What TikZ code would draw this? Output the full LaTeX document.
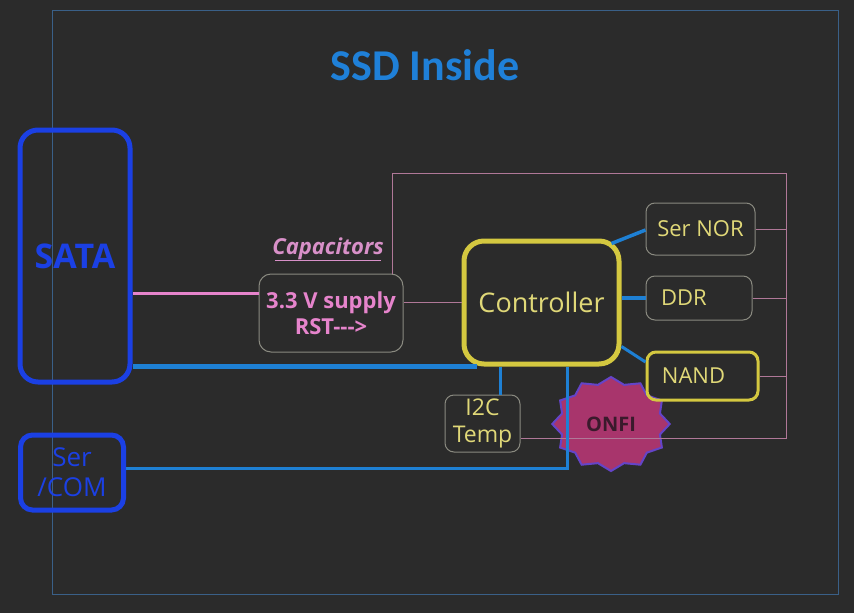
\documentclass[tikz,border=0pt]{standalone}
\usepackage{fontspec}
\setmainfont{Open Sans}
\newfontfamily\titlefont{Carlito}
\usetikzlibrary{shapes.geometric,calc}
\definecolor{bgc}{HTML}{2B2B2B}
\definecolor{framec}{HTML}{3A6088}
\definecolor{titlec}{HTML}{1F80D8}
\definecolor{satac}{HTML}{1B40E4}
\definecolor{pinkl}{HTML}{B07898}
\definecolor{pinkt}{HTML}{E684CC}
\definecolor{capc}{HTML}{D890C8}
\definecolor{grayb}{HTML}{8A8A80}
\definecolor{yell}{HTML}{D4C840}
\definecolor{yelt}{HTML}{E0D878}
\definecolor{bluel}{HTML}{1E80D4}
\definecolor{onfif}{HTML}{A8356C}
\definecolor{onfib}{HTML}{6444C8}
\definecolor{onfit}{HTML}{3A1A2C}
\tikzset{
  x=1pt, y=1pt,
  satabox/.style={draw=satac, line width=5pt, rounded corners=18pt, inner sep=0pt,
     text=satac, font=\bfseries\fontsize{34}{36}\selectfont},
  graybox/.style={draw=grayb, line width=1pt, rounded corners=9pt, inner sep=0pt,
     text=yelt, font=\fontsize{22}{24}\selectfont},
  yelbox/.style={draw=yell, line width=3pt, rounded corners=9pt, inner sep=0pt,
     text=yelt, font=\fontsize{22}{24}\selectfont},
  pinkthin/.style={draw=pinkl, line width=1pt},
  bluecon/.style={draw=bluel, line width=3.5pt},
}
\begin{document}
\begin{tikzpicture}
\fill[bgc] (0,0) rectangle (854,-613);
\useasboundingbox (0,0) rectangle (854,-613);
\draw[framec, line width=1pt] (52,-10) rectangle (838,-594);

\node[text=titlec, font=\titlefont\bfseries\fontsize{44}{46}\selectfont] (title) at (425,-65) {SSD Inside};

% ONFI burst drawn first
\node[star, star points=12, star point ratio=1.16, minimum size=94pt, xscale=1.25,
      fill=onfif, draw=onfib, line width=2pt, inner sep=0pt] (onfi) at (611,-424) {};
\node[text=onfit, font=\bfseries\fontsize{20}{22}\selectfont] (onfitext) at (onfi.center) {ONFI};

\node[satabox, minimum width=110pt, minimum height=252pt] (sata) at (75,-256) {SATA};
\node[satabox, rounded corners=12pt, minimum width=103pt, minimum height=75pt,
      font=\fontsize{26}{30}\selectfont, align=center] (sercom) at (72,-472.5) {Ser\\/COM};

\node[draw=grayb, line width=1pt, rounded corners=12pt, minimum width=144pt, minimum height=78pt,
      text=pinkt, font=\bfseries\fontsize{22}{26}\selectfont, align=center, inner sep=0pt]
      (cap) at (331,-313) {3.3 V supply\\RST-{}-{}->};
\node[text=capc, font=\bfseries\itshape\fontsize{22}{24}\selectfont] (captxt) at (328,-249) {Capacitors};
\draw[capc, line width=1pt] ([xshift=6pt,yshift=3pt]captxt.south west) -- ([xshift=-6pt,yshift=3pt]captxt.south east);

\node[draw=yell, line width=5pt, rounded corners=20pt, minimum width=155pt, minimum height=123pt,
      text=yelt, font=\fontsize{27}{29}\selectfont, inner sep=0pt] (ctrl) at (541.5,-302.5) {Controller};

\node[graybox, minimum width=109pt, minimum height=52pt] (sernor) at (700.5,-229) {Ser NOR};
\node[graybox, minimum width=106pt, minimum height=44pt] (ddr) at (699,-298) {\hspace*{-30pt}DDR};
\node[yelbox, minimum width=111pt, minimum height=48pt] (nand) at (702.5,-376) {\hspace*{-18pt}NAND};
\node[graybox, minimum width=75pt, minimum height=57pt, align=center, font=\fontsize{23}{27}\selectfont]
      (i2c) at (482.5,-423.5) {I2C\\Temp};

% pink power trace
\coordinate (ptr) at (786,-173);
\draw[pinkthin] ($(cap.north east)+(-11,0)$) |- (ptr) |- ([yshift=-14.5pt]i2c.east);
\draw[pinkthin] (sernor.east) -- (sernor.east -| ptr);
\draw[pinkthin] (ddr.east) -- (ddr.east -| ptr);
\draw[pinkthin] (nand.east) -- (nand.east -| ptr);
\draw[pinkthin] (cap.east |- ctrl.west) -- (ctrl.west);
\draw[pinkt, line width=3pt] ([yshift=20pt]cap.west) -- ([yshift=20pt]cap.west -| sata.east);

% blue connectors
\draw[bluecon, line width=4.5pt] ([xshift=15pt]ctrl.south west) -- (ctrl.south west -| sata.east);
\draw[bluecon, line width=3pt] ([xshift=17.5pt]i2c.north) -- ([xshift=17.5pt]i2c.north |- ctrl.south);
\draw[bluecon, line width=3pt] ([xshift=25.5pt]ctrl.south) |- ([yshift=4.5pt]sercom.east);
\draw[bluecon] ([xshift=-10pt,yshift=-5pt]ctrl.north east) -- ([yshift=-1pt]sernor.west);
\draw[bluecon] (ctrl.east |- ddr.west) -- (ddr.west);
\draw[bluecon, line width=3pt] ([yshift=20pt]ctrl.south east) -- ([yshift=14pt]nand.west);
\end{tikzpicture}
\end{document}
